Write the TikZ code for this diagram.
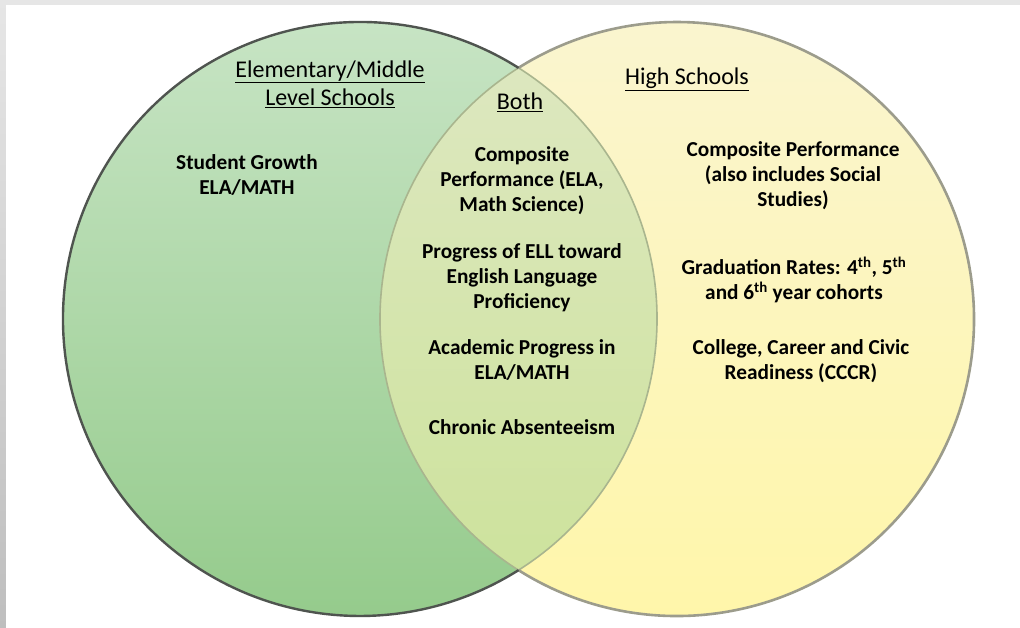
\documentclass[tikz,border=0pt]{standalone}
\usepackage{fontspec}
\setmainfont{Carlito}
\definecolor{frame}{HTML}{E6E6E6}
\definecolor{frameside}{HTML}{BEBEBE}
\definecolor{greentop}{HTML}{C7E4C4}
\definecolor{greenbot}{HTML}{95CB8C}
\definecolor{yellowtop}{HTML}{FAF5CF}
\definecolor{yellowbot}{HTML}{FFF6AA}
\definecolor{lenstop}{HTML}{DEE8C2}
\definecolor{lensbot}{HTML}{CCE29A}
\definecolor{greenline}{HTML}{4F544F}
\definecolor{yellowline}{HTML}{9C9C8C}
\definecolor{innerline}{HTML}{A9B58E}
\begin{document}
\begin{tikzpicture}[x=1pt,y=-1pt,
  heading/.style={font=\fontsize{24}{28}\selectfont, align=center, text=black},
  item/.style={font=\bfseries\fontsize{21.3}{25}\selectfont, align=center, text=black, inner sep=0pt}]
  \useasboundingbox (0,0) rectangle (1020,628);
  % window frame and white page
  \fill[frame] (0,0) rectangle (1020,628);
  \shade[top color=frame, bottom color=frameside] (0,0) rectangle (6,628);
  \fill[white] (6,5) rectangle (1020,628);

  \coordinate (cL) at (360,319);
  \coordinate (cR) at (677,319);

  % circle fills
  \shade[top color=greentop, bottom color=greenbot] (cL) circle[radius=297pt];
  \shade[top color=yellowtop, bottom color=yellowbot] (cR) circle[radius=297pt];
  \begin{scope}
    \clip (cL) circle[radius=297pt];
    \shade[top color=lenstop, bottom color=lensbot] (cR) circle[radius=297pt];
  \end{scope}

  % arcs inside the overlap
  \draw[innerline, line width=1.6pt] (cL) ++(-57.73:297pt) arc[start angle=-57.73, end angle=57.73, radius=297pt];
  \draw[innerline, line width=1.6pt] (cR) ++(122.27:297pt) arc[start angle=122.27, end angle=237.73, radius=297pt];

  % outer outlines
  \draw[yellowline, line width=2.6pt] (cR) ++(-122.27:297pt) arc[start angle=-122.27, end angle=122.27, radius=297pt];
  \draw[greenline, line width=2.4pt] (cL) ++(57.73:297pt) arc[start angle=57.73, end angle=302.27, radius=297pt];

  % headings
  \node[heading] (hElem) at (330,84) {\underline{Elementary/Middle}\\\underline{Level Schools}};
  \node[heading] (hBoth) at (520,102) {\underline{Both}};
  \node[heading] (hHigh) at (687,79) {\underline{High Schools}};

  % elementary / middle only
  \node[item] (growth) at (247,175) {Student Growth\\ELA/MATH};

  % shared measures
  \node[item] (bComp) at (522,181) {Composite\\Performance (ELA,\\Math Science)};
  \node[item] (bEll) at (522,278) {Progress of ELL toward\\English Language\\Proficiency};
  \node[item] (bAcad) at (522,360) {Academic Progress in\\ELA/MATH};
  \node[item] (bChron) at (522,427) {Chronic Absenteeism};

  % high school only
  \node[item] (hComp) at (793,176) {Composite Performance\\(also includes Social\\Studies)};
  \node[item] (hGrad) at (794,280) {Graduation Rates: 4\textsuperscript{th}, 5\textsuperscript{th}\\and 6\textsuperscript{th} year cohorts};
  \node[item] (hCccr) at (801,361) {College, Career and Civic\\Readiness (CCCR)};
\end{tikzpicture}
\end{document}
